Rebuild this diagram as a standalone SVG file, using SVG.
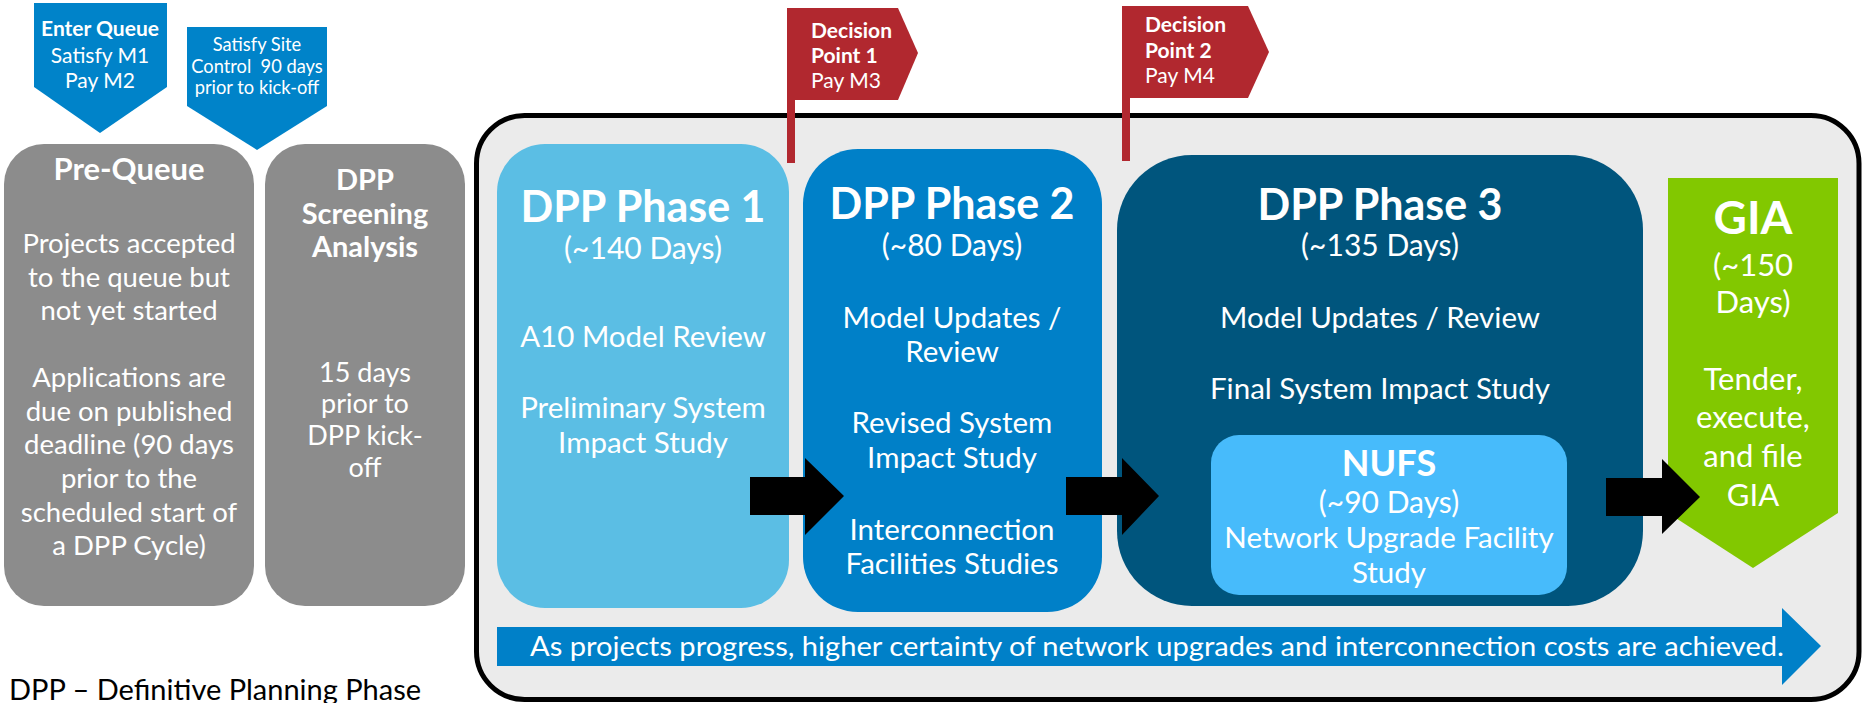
<svg xmlns="http://www.w3.org/2000/svg" width="1862" height="703" viewBox="0 0 1862 703">
<style>
text{font-family:Lato,"Liberation Sans",sans-serif;fill:#fff;text-anchor:middle}
.b{font-weight:bold}
.gray{fill:#8c8c8c}
.red{fill:#b1282f}
.pent{fill:#0083c9}
.t27{font-size:27.5px}
.t29{font-size:29.5px}
.days{font-size:30px}
.h43{font-size:43px;font-weight:bold}
.flag{font-size:21px;text-anchor:start}
</style>
<rect width="1862" height="703" fill="#fff"/>
<g id="container">
<rect x="476.5" y="115.5" width="1382.5" height="584" rx="48" fill="#ebebeb" stroke="#000" stroke-width="5"/>
</g>
<g id="enter-queue">
<polygon class="pent" points="34,3 167,3 167,87 100,133 34,87"/>
<text x="100" y="36" class="b" font-size="21">Enter Queue</text>
<text x="100" y="63" font-size="21">Satisfy M1</text>
<text x="100" y="88" font-size="21">Pay M2</text>
</g>
<g id="site-control">
<polygon class="pent" points="187,27 327,27 327,106 257,150 187,106"/>
<text x="257" y="51" font-size="18.3">Satisfy Site</text>
<text x="257" y="73" font-size="18.3" xml:space="preserve">Control  90 days</text>
<text x="257" y="94" font-size="18.3">prior to kick-off</text>
</g>
<g id="pre-queue">
<rect class="gray" x="4" y="144" width="250" height="462" rx="40"/>
<text x="129" y="180" class="b" font-size="31">Pre-Queue</text>
<text x="129" y="253" class="t27">Projects accepted</text>
<text x="129" y="287" class="t27">to the queue but</text>
<text x="129" y="320" class="t27">not yet started</text>
<text x="129" y="387" class="t27">Applications are</text>
<text x="129" y="421" class="t27">due on published</text>
<text x="129" y="454" class="t27">deadline (90 days</text>
<text x="129" y="488" class="t27">prior to the</text>
<text x="129" y="522" class="t27">scheduled start of</text>
<text x="129" y="555" class="t27">a DPP Cycle)</text>
</g>
<g id="screening">
<rect class="gray" x="265" y="144" width="200" height="462" rx="40"/>
<text x="365" y="190" class="b" font-size="29">DPP</text>
<text x="365" y="224" class="b" font-size="29">Screening</text>
<text x="365" y="257" class="b" font-size="29">Analysis</text>
<text x="365" y="382" font-size="27">15 days</text>
<text x="365" y="413" font-size="27">prior to</text>
<text x="365" y="445" font-size="27">DPP kick-</text>
<text x="365" y="477" font-size="27">off</text>
</g>
<g id="decision-1">
<rect class="red" x="787" y="9" width="8" height="154"/>
<polygon class="red" points="787,8 898,8 918,53 898,100 787,100"/>
<text x="811" y="38" class="flag b">Decision</text>
<text x="811" y="63" class="flag b">Point 1</text>
<text x="811" y="88" class="flag">Pay M3</text>
</g>
<g id="decision-2">
<rect class="red" x="1122" y="6" width="8" height="155"/>
<polygon class="red" points="1122,6 1248,6 1269,52 1248,98 1122,98"/>
<text x="1145" y="32" class="flag b">Decision</text>
<text x="1145" y="58" class="flag b">Point 2</text>
<text x="1145" y="83" class="flag">Pay M4</text>
</g>
<g id="phase-1">
<rect x="497" y="144" width="292" height="464" rx="48" fill="#5bbee4"/>
<text x="643" y="222" class="h43">DPP Phase 1</text>
<text x="643" y="259" class="days">(~140 Days)</text>
<text x="643" y="347" class="t29">A10 Model Review</text>
<text x="643" y="418" class="t29">Preliminary System</text>
<text x="643" y="453" class="t29">Impact Study</text>
</g>
<g id="phase-2">
<rect x="803" y="149" width="299" height="463" rx="55" fill="#0080c8"/>
<text x="952" y="219" class="h43">DPP Phase 2</text>
<text x="952" y="256" class="days">(~80 Days)</text>
<text x="952" y="328" class="t29">Model Updates /</text>
<text x="952" y="362" class="t29">Review</text>
<text x="952" y="433" class="t29">Revised System</text>
<text x="952" y="468" class="t29">Impact Study</text>
<text x="952" y="540" class="t29">Interconnection</text>
<text x="952" y="574" class="t29">Facilities Studies</text>
</g>
<g id="phase-3">
<rect x="1117" y="155" width="526" height="451" rx="75" fill="#00557d"/>
<text x="1380" y="220" class="h43">DPP Phase 3</text>
<text x="1380" y="256" class="days">(~135 Days)</text>
<text x="1380" y="328" class="t29">Model Updates / Review</text>
<text x="1380" y="399" class="t29">Final System Impact Study</text>
</g>
<g id="nufs">
<rect x="1211" y="435" width="356" height="160" rx="28" fill="#47bbfb"/>
<text x="1389" y="476" class="b" font-size="36">NUFS</text>
<text x="1389" y="513" class="days">(~90 Days)</text>
<text x="1389" y="548" class="t29">Network Upgrade Facility</text>
<text x="1389" y="583" class="t29">Study</text>
</g>
<g id="gia">
<polygon points="1668,178 1838,178 1838,513 1753,568 1668,513" fill="#82c800"/>
<text x="1753" y="234" class="b" font-size="46">GIA</text>
<text x="1753" y="276" font-size="31">(~150</text>
<text x="1753" y="313" font-size="31">Days)</text>
<text x="1753" y="390" font-size="31">Tender,</text>
<text x="1753" y="428" font-size="31">execute,</text>
<text x="1753" y="467" font-size="31">and file</text>
<text x="1753" y="506" font-size="31">GIA</text>
</g>
<g id="connectors" fill="#000">
<polygon points="750,477 805,477 805,458 844,496 805,535 805,515 750,515"/>
<polygon points="1066,477 1122,477 1122,458 1159,496 1122,535 1122,515 1066,515"/>
<polygon points="1606,478 1662,478 1662,459 1700,497 1662,534 1662,516 1606,516"/>
</g>
<g id="progress-banner">
<polygon points="497,627 1782,627 1782,608 1821,646 1782,685 1782,666 497,666" fill="#0080c8"/>
<text x="530" y="656" font-size="26" style="text-anchor:start" textLength="1254" lengthAdjust="spacingAndGlyphs">As projects progress, higher certainty of network upgrades and interconnection costs are achieved.</text>
</g>
<g id="footnote">
<text x="9" y="700" font-size="29" style="fill:#000;text-anchor:start">DPP – Definitive Planning Phase</text>
</g>
</svg>
